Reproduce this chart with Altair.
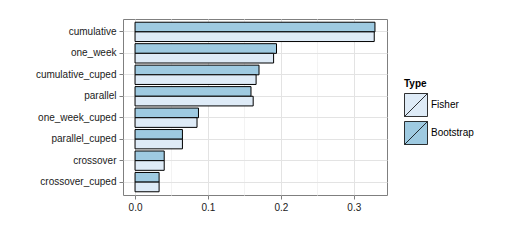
import altair as alt
import pandas as pd

categories = ["cumulative", "one_week", "cumulative_cuped", "parallel",
              "one_week_cuped", "parallel_cuped", "crossover", "crossover_cuped"]
bootstrap = [0.329, 0.194, 0.170, 0.159, 0.087, 0.065, 0.040, 0.033]
fisher = [0.328, 0.190, 0.166, 0.162, 0.085, 0.065, 0.040, 0.033]
types = ["Fisher", "Bootstrap"]
x_ticks = [0, 0.05, 0.1, 0.15, 0.2, 0.25, 0.3]

rows = []
for c, b, f in zip(categories, bootstrap, fisher):
    rows.append({"method": c, "Type": "Bootstrap", "value": b})
    rows.append({"method": c, "Type": "Fisher", "value": f})
df = pd.DataFrame(rows)

minor_test = "round(datum.value*100) % 10 != 0"

chart = alt.Chart(df).mark_bar(stroke="black", strokeWidth=1).encode(
    y=alt.Y("method:N", sort=categories,
            scale=alt.Scale(paddingInner=0.1, paddingOuter=0.15),
            axis=alt.Axis(title=None, domain=False, grid=True, bandPosition=0.5,
                          tickColor="#7f7f7f", tickSize=4,
                          labelPadding=3, labelFontSize=10, labelColor="#1a1a1a",
                          labelFont="Liberation Sans", gridColor="#e3e3e3")),
    yOffset=alt.YOffset("Type:N", sort=["Bootstrap", "Fisher"],
                        scale=alt.Scale(paddingInner=0, paddingOuter=0)),
    x=alt.X("value:Q", scale=alt.Scale(domain=[-0.0165, 0.3455], nice=False),
            axis=alt.Axis(title=None, values=x_ticks, domain=False,
                          labelExpr="round(datum.value*100) % 10 != 0 ? '' : format(datum.value, '.1f')",
                          gridColor={"condition": {"test": minor_test, "value": "#f3f3f3"}, "value": "#e3e3e3"},
                          tickOpacity={"condition": {"test": minor_test, "value": 0}, "value": 1},
                          tickColor="#7f7f7f", tickSize=4, labelPadding=3,
                          labelFontSize=10, labelColor="#1a1a1a", labelFont="Liberation Sans")),
    color=alt.Color("Type:N", scale=alt.Scale(domain=types, range=["#deebf7", "#9ecae1"]),
                    legend=alt.Legend(title="Type", orient="none", legendX=281, legendY=60,
                                      symbolType="M-1,-1H1V1H-1Z M-1,1L1,-1",
                                      symbolSize=529, symbolStrokeColor="black",
                                      symbolStrokeWidth=0.8, rowPadding=0, labelOffset=3,
                                      titleFontSize=10, titleFontWeight="bold", titlePadding=4,
                                      labelFontSize=10, labelFont="Liberation Sans",
                                      titleFont="Liberation Sans", padding=0,
                                      labelColor="#000000", titleColor="#000000")),
).properties(
    width=264, height=176,
    autosize=alt.AutoSizeParams(type="none"),
    padding={"left": 115, "top": 11, "right": 110, "bottom": 35},
).configure_view(stroke="#7f7f7f", strokeWidth=1)

chart.save("out.html", embed_options={"renderer": "svg", "actions": False})
